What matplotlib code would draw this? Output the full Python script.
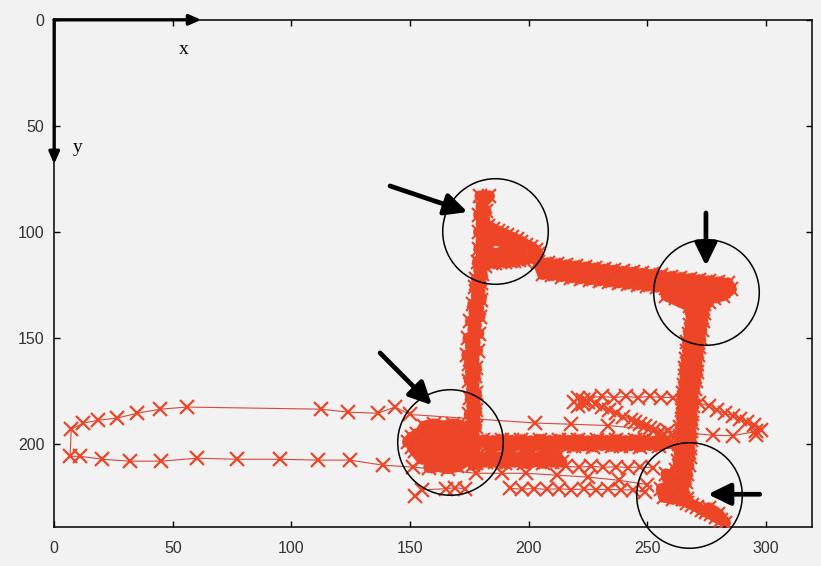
import numpy as np
import matplotlib
matplotlib.use("Agg")
import matplotlib.pyplot as plt

# ---- tracked positions (x, y), one array per stretch of the track ----
loop_pts = np.array([
    (296, 194), (286, 196), (277.7, 195.8), (233.5, 191.2), (217.9, 190.6),
    (202.7, 190), (150, 186), (143.7, 182.5), (136.5, 185.4), (123.9, 184.9),
    (112.5, 183.5), (56.0, 182.5), (44.7, 183.5), (35.0, 185.4), (26.5, 187.7),
    (18.5, 188.7), (12.2, 190.1), (7.2, 192.9), (6.7, 205.7), (11.0, 205.7),
    (20.2, 207.1), (32.0, 208.0), (45.1, 208.0), (60.3, 206.6), (77.1, 207.1),
    (95.2, 207.1), (111.3, 207.5), (124.7, 207.5), (138.6, 209.9), (151.3, 210.8),
    (178, 213.7), (189, 213.7), (199, 213.7), (212, 214.6), (225, 215.5),
    (238, 217), (250, 219),
])

left_column = np.array([
    (179.5, 83), (183.5, 83), (181, 86), (180, 88), (182, 90), (179, 92),
    (181.5, 94), (180, 96), (182, 98), (179, 100), (181, 102), (180, 104),
    (182.5, 106), (179, 108), (181, 110), (180, 112), (178.5, 114), (181.5, 116),
    (179, 118), (180.5, 120), (178, 122), (180, 124), (177.5, 126), (179.5, 128),
    (178, 130), (180, 132), (176.5, 134), (179, 136), (177, 138), (179.5, 140),
    (175.5, 142), (178, 144), (176.5, 146), (179, 148), (174.5, 150), (177.5, 152),
    (175.5, 154), (178.5, 156), (174, 158), (177, 160), (175, 162), (178, 164),
    (175.5, 166), (177.5, 168), (175, 170), (177, 172), (176, 174), (178, 176),
    (175.5, 178), (177.5, 180), (176, 182), (178, 184), (175, 186), (177.5, 188),
    (176, 190), (178, 192), (175, 194), (177, 196), (176, 198), (178, 200),
    (175.5, 202), (177.5, 204), (176, 206), (178, 208), (176.5, 210),
])

flag = np.array([
    (183, 97), (185, 98.5), (187, 99.5), (189, 100.5), (191, 101.5), (193, 102.5),
    (195, 103.5), (197, 104.5), (199, 106), (201, 107), (203, 108.5), (204, 110.5),
    (202, 112), (200, 112.5), (198, 113), (196, 113), (194, 113.5), (192, 113.5),
    (190, 114), (188, 114), (186, 114.5), (184, 114.5), (183, 111), (183, 106),
    (183, 102), (186, 104), (190, 104.5), (194, 107), (197, 109), (192, 110.5),
    (186.5, 110),
])

top_strip = np.array([
    (204, 114), (206, 120), (208, 114.5), (210, 120.5), (212, 115), (214, 121),
    (216, 115.5), (218, 121.5), (220, 116), (222, 122), (224, 116.5), (226, 122.5),
    (228, 117), (230, 123), (232, 117.5), (234, 123.5), (236, 118), (238, 124),
    (240, 118.5), (242, 124.5), (244, 119), (246, 125), (248, 119.5), (250, 125.5),
    (252, 120), (254, 126), (256, 120.5), (258, 126.5), (260, 121), (262, 127),
    (264, 121.5), (266, 127.5), (268, 122), (270, 128), (272, 122.5), (274, 128.5),
    (276, 123), (278, 128.5), (280, 123.5), (282, 128), (284, 124), (285.5, 127),
    (282, 130), (278, 131), (274, 132), (270, 132.5), (266, 132), (262, 131),
    (258, 130), (268, 135), (272, 134.5), (276, 133),
])

right_column = np.array([
    (273, 130), (268.5, 132), (274, 134), (269, 136), (274, 138), (268.5, 140),
    (273.5, 142), (268, 144), (273, 146), (267.5, 148), (272.5, 150), (267, 152),
    (272, 154), (267, 156), (271.5, 158), (266.5, 160), (271, 162), (266, 164),
    (271, 166), (266, 168), (270.5, 170), (265.5, 172), (270, 174), (265, 176),
    (269.5, 178), (265, 180), (269.5, 182), (264.5, 184), (269, 186), (264.5, 188),
    (269, 190), (264, 192), (268.5, 194), (264, 196), (268.5, 198), (263.5, 200),
    (268, 202), (263.5, 204), (268, 206), (263, 208), (267.5, 210), (262, 212),
    (267, 214), (261, 216), (266.5, 218), (260, 220), (265.5, 222), (259, 224),
    (265, 226), (258, 214), (259, 218), (258, 222), (261, 226), (256, 221),
    (257, 225), (267, 226),
])

tail = np.array([
    (265, 226), (267, 227.5), (269, 228.5), (271, 229.5), (273, 231), (275, 232),
    (277, 233), (279, 234.5), (281, 235.5), (283, 237), (280, 233), (276, 230),
])

mid_strip = np.array([
    (181, 198.0), (183, 201.0), (185, 198.3), (187, 200.8), (189, 197.9), (191, 201.1),
    (193, 198.2), (195, 200.7), (197, 197.9), (199, 201.0), (201, 198.4), (203, 200.8),
    (205, 197.8), (207, 201.0), (209, 198.3), (211, 201.2), (213, 198.0), (215, 200.7),
    (217, 198.2), (219, 201.0), (221, 197.9), (223, 200.8), (225, 198.4), (227, 201.1),
    (229, 198.0), (231, 200.6), (233, 198.2), (235, 201.0), (237, 197.9), (239, 201.0),
    (241, 198.3), (243, 200.7), (245, 198.0), (247, 201.2), (249, 198.2), (251, 200.6),
    (253, 198.6), (255, 200.7), (257, 198.4), (259, 199.8),
])

low_block = np.array([
    (176, 207), (178, 209), (180, 206), (182, 208.5), (184, 205.5), (186, 208.5),
    (188, 206), (190, 209), (192, 205.5), (194, 208.5), (196, 206), (198, 209),
    (200, 205.5), (202, 208.5), (204, 206), (206, 209), (208, 205.5), (210, 208.5),
    (212, 206), (214, 208.5),
])

row_211 = np.array([
    (216, 210.5), (221.2, 210.8), (226.4, 210.4), (231.6, 210.9), (236.8, 210.6),
    (242, 211), (247.2, 210.7), (252.4, 211.2),
])

row_221 = np.array([
    (192, 220.8), (197.2, 221.2), (202.4, 220.9), (207.6, 221.3), (212.8, 221),
    (218, 221.4), (223.2, 221.1), (228.4, 221.5), (233.6, 221.2), (238.8, 221.6),
    (244, 221.5), (249, 222.5),
])

row_178 = np.array([
    (219, 180), (221, 178), (221, 182), (223, 179), (223, 181), (225, 180),
    (226, 178), (231, 177.5), (236, 178), (241, 177.5), (246, 178), (251, 177.5),
    (256, 178), (261, 178),
])

diag_chain = np.array([
    (228, 181), (231, 182.5), (234, 184), (237, 185.5), (240, 187), (243, 188.5),
    (245, 189.5), (247, 190.5), (249, 191.5), (251, 192.5), (253, 193.5),
    (255, 194.5), (257, 195), (259, 194), (261, 195.5),
])

right_chain = np.array([
    (272, 180.5), (276, 182), (279.5, 184), (283, 185.5), (286, 186.5), (289, 188),
    (292, 189.5), (295, 191), (298, 193.5), (296, 195.5),
])

corner_blob = np.array([
    (149, 199), (151, 196.5), (151, 201.5),
    (156, 191.5), (160, 190.5), (164, 191.5), (168, 190.5), (172, 191.5),
    (173, 195), (169, 195.5), (165, 194.5), (161, 195.5), (157, 194.5), (153, 195),
    (154, 199.5), (158, 198.5), (162, 199.5), (166, 198.5), (170, 199.5), (174, 199),
    (176, 203), (172, 203.5), (168, 202.5), (164, 203.5), (160, 202.5), (156, 203.5),
    (152, 203),
    (155, 207), (159, 207.5), (163, 206.5), (167, 207.5), (171, 206.5), (175, 207),
    (170, 210.5), (166, 211.5), (162, 210.5), (158, 211),
])

low_left = np.array([
    (152, 224.5), (155, 221.5), (165, 221), (169, 220.5), (173, 221),
])

# annotation circles (centres, data units) and pointer arrows (tail -> tip)
circle_centres = [(185.8, 99.5), (274.8, 128.5), (167.0, 198.8), (267.6, 223.8)]
pointer_arrows = [((141.6, 78.3), (174.3, 90.6)),
                  ((274.8, 91.0), (274.8, 116.0)),
                  ((137.4, 157.0), (159.3, 181.6)),
                  ((297.5, 223.6), (275.6, 223.6))]

x_ticks = [0, 50, 100, 150, 200, 250, 300]
y_ticks = [0, 50, 100, 150, 200]

# ---- figure ----
bg = "#f2f2f2"
track_color = "#ee4527"
fig = plt.figure(figsize=(8.21, 5.66), dpi=100, facecolor=bg)
ax = fig.add_axes([0.066, 0.069, 0.923, 0.896], facecolor=bg)

# densely sampled stretches: the overlapping crosses merge into a solid band
dense = [left_column, flag, top_strip, right_column, tail, mid_strip,
         low_block, corner_blob]
chains = [loop_pts, row_211, row_221, row_178, diag_chain, right_chain, low_left]

for seg in dense:
    ax.plot(seg[:, 0], seg[:, 1], color=track_color, lw=8,
            solid_joinstyle="round", solid_capstyle="round", zorder=2)
for seg in dense + chains:
    ax.plot(seg[:, 0], seg[:, 1], color="#d9483a", lw=0.8, zorder=2)
    ax.plot(seg[:, 0], seg[:, 1], ls="none", marker="x", ms=10, mew=1.6,
            color=track_color, zorder=3)

ax.set_xlim(0, 319.5)
ax.set_ylim(239, 0)
ax.set_xticks(x_ticks)
ax.set_yticks(y_ticks)
ax.tick_params(direction="in", length=4, width=1, top=True, right=True,
               labelsize=11.5, labelcolor="#333333", pad=7)
for lab in ax.get_xticklabels() + ax.get_yticklabels():
    lab.set_family("Liberation Sans")
ax.tick_params(axis="x", pad=10)
for sp in ax.spines.values():
    sp.set_linewidth(1.1)

# thick axis arrows from the origin
for tip in [(62, 0), (0, 68)]:
    ax.annotate("", xy=tip, xytext=(0, 0), annotation_clip=False,
                arrowprops=dict(arrowstyle="-|>,head_length=0.5,head_width=0.22",
                                lw=2.4, color="black", mutation_scale=14,
                                shrinkA=0, shrinkB=0))
ax.text(54.4, 14, "x", fontsize=14, family="Liberation Serif", ha="center", va="center")
ax.text(10, 60, "y", fontsize=14, family="Liberation Serif", ha="center", va="center")

for cx, cy in circle_centres:
    ax.plot(cx, cy, marker="o", ms=76, mfc="none", mec="black", mew=1.1,
            clip_on=False, zorder=5)

for (tx, ty), (hx, hy) in pointer_arrows:
    ax.annotate("", xy=(hx, hy), xytext=(tx, ty), annotation_clip=False,
                arrowprops=dict(arrowstyle="-|>,head_length=0.45,head_width=0.22",
                                lw=3.4, color="black", mutation_scale=30,
                                shrinkA=0, shrinkB=0), zorder=6)

fig.savefig("out.png", dpi=100, facecolor=bg)
